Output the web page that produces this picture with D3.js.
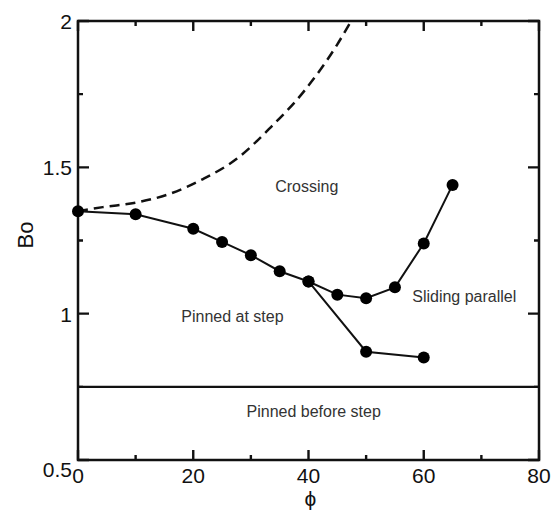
<!DOCTYPE html>
<html>
<head>
<meta charset="utf-8">
<script src="https://cdn.jsdelivr.net/npm/d3@7"></script>
<style>
  body { margin: 0; background: #fff; }
  svg text { font-family: "Liberation Sans", Arial, sans-serif; }
</style>
</head>
<body>
<svg id="chart" width="556" height="511"></svg>
<script>
// upper branch (pinned / sliding boundary)
var phiMain = [0, 10, 20, 25, 30, 35, 40, 45, 50, 55, 60, 65];
var boMain  = [1.35, 1.34, 1.29, 1.245, 1.20, 1.145, 1.11, 1.065, 1.053, 1.09, 1.24, 1.44];

// lower branch splitting off at 40
var phiLow = [40, 50, 60];
var boLow  = [1.11, 0.87, 0.85];

// dashed crossing boundary
var phiDash = [0, 4.3, 10.2, 16, 21.7, 27.6, 33.3, 39.1, 44.9, 47.4];
var boDash  = [1.35, 1.364, 1.38, 1.41, 1.46, 1.53, 1.634, 1.757, 1.917, 2.0];

// pinned before step level
var boFlat = 0.75;

var xTicks = [0, 20, 40, 60, 80];
var xMinor = [10, 30, 50, 70];
var yTicks = [0.5, 1, 1.5, 2];
var yMinor = [0.75, 1.25, 1.75];

var regionLabels = [
    {text: "Crossing", x: 39.7, y: 1.415, anchor: "middle"},
    {text: "Pinned at step", x: 26.8, y: 0.971, anchor: "middle"},
    {text: "Sliding parallel", x: 58, y: 1.04, anchor: "start"},
    {text: "Pinned before step", x: 40.9, y: 0.647, anchor: "middle"}
];

var svg = d3.select("#chart");
var margin = {top: 21, right: 17, bottom: 51, left: 78};
var width = 556 - margin.left - margin.right,
    height = 511 - margin.top - margin.bottom;

var x = d3.scaleLinear().domain([0, 80]).range([0, width]);
var y = d3.scaleLinear().domain([0.5, 2]).range([height, 0]);

var g = svg.append("g")
    .attr("transform", "translate(" + margin.left + "," + margin.top + ")");

// clip so the dashed curve stops at the frame
g.append("defs").append("clipPath").attr("id", "clip")
    .append("rect").attr("width", width).attr("height", height);

// inward ticks on all four sides, drawn as one path each
function xTickPath(vals, len) {
    return vals.map(function(d) {
        return "M" + x(d) + "," + height + "v" + (-len) + "M" + x(d) + ",0v" + len;
    }).join("");
}
function yTickPath(vals, len) {
    return vals.map(function(d) {
        return "M0," + y(d) + "h" + len + "M" + width + "," + y(d) + "h" + (-len);
    }).join("");
}
g.append("path")
    .attr("d", xTickPath(xTicks, 10) + xTickPath(xMinor, 5) +
               yTickPath(yTicks, 11) + yTickPath(yMinor, 5))
    .attr("fill", "none")
    .attr("stroke", "#111")
    .attr("stroke-width", 2.4);

// frame
g.append("rect")
    .attr("width", width).attr("height", height)
    .attr("fill", "none").attr("stroke", "#111").attr("stroke-width", 2.5);

// tick labels
g.selectAll(".xlab").data(xTicks).enter().append("text")
    .attr("x", function(d) { return x(d); })
    .attr("y", height + 23)
    .attr("text-anchor", "middle")
    .attr("font-size", 21)
    .attr("fill", "#111")
    .text(function(d) { return d; });

g.selectAll(".ylab").data(yTicks).enter().append("text")
    .attr("x", -6)
    .attr("y", function(d) { return y(d) + (d === 0.5 ? 17 : 8); })
    .attr("text-anchor", "end")
    .attr("font-size", 21)
    .attr("fill", "#111")
    .text(function(d) { return d; });

// axis titles
svg.append("text")
    .attr("transform", "translate(33,235) rotate(-90)")
    .attr("text-anchor", "middle")
    .attr("font-size", 22)
    .attr("fill", "#111")
    .text("Bo");

svg.append("text")
    .attr("x", margin.left + x(40) + 2)
    .attr("y", 506)
    .attr("text-anchor", "middle")
    .attr("font-size", 21)
    .attr("fill", "#111")
    .text("ϕ");

// flat boundary
g.append("line")
    .attr("x1", x(0)).attr("x2", x(80))
    .attr("y1", y(boFlat)).attr("y2", y(boFlat))
    .attr("stroke", "#111").attr("stroke-width", 2.2);

// dashed curve
var dashLine = d3.line()
    .x(function(d) { return x(d[0]); })
    .y(function(d) { return y(d[1]); })
    .curve(d3.curveMonotoneX);

g.append("path")
    .datum(d3.zip(phiDash, boDash))
    .attr("clip-path", "url(#clip)")
    .attr("d", dashLine)
    .attr("fill", "none")
    .attr("stroke", "#111")
    .attr("stroke-width", 2.5)
    .attr("stroke-dasharray", "10,6");

var line = d3.line()
    .x(function(d) { return x(d[0]); })
    .y(function(d) { return y(d[1]); });

[d3.zip(phiMain, boMain), d3.zip(phiLow, boLow)].forEach(function(series) {
    g.append("path")
        .datum(series)
        .attr("d", line)
        .attr("fill", "none")
        .attr("stroke", "#111")
        .attr("stroke-width", 2);

    g.selectAll(null).data(series).enter().append("circle")
        .attr("cx", function(d) { return x(d[0]); })
        .attr("cy", function(d) { return y(d[1]); })
        .attr("r", 6)
        .attr("fill", "#000");
});

// region labels
g.selectAll(".region").data(regionLabels).enter().append("text")
    .attr("x", function(d) { return x(d.x); })
    .attr("y", function(d) { return y(d.y); })
    .attr("text-anchor", function(d) { return d.anchor; })
    .attr("font-size", 16)
    .attr("fill", "#333")
    .text(function(d) { return d.text; });
</script>
</body>
</html>
